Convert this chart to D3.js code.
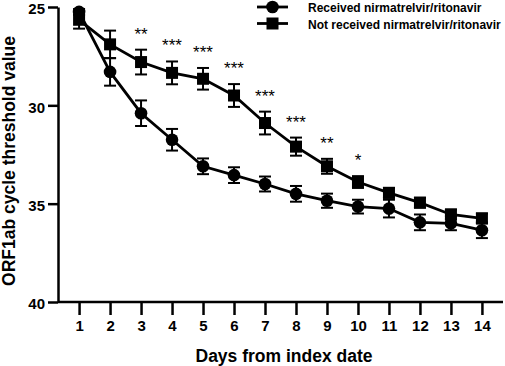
<!DOCTYPE html>
<html lang="en">
<head>
<meta charset="UTF-8">
<script src="https://d3js.org/d3.v7.min.js"></script>
<style>
  body { margin: 0; background: #fff; }
  text { font-family: "Liberation Sans", Arial, sans-serif; fill: #000; }
</style>
</head>
<body>
<svg width="505" height="366"></svg>
<script>
const days = [1, 2, 3, 4, 5, 6, 7, 8, 9, 10, 11, 12, 13, 14];
const received = [25.25, 28.3, 30.4, 31.75, 33.1, 33.55, 34.0, 34.5, 34.85, 35.15, 35.25, 35.95, 36.0, 36.35];
const receivedErr = [0.15, 0.7, 0.65, 0.55, 0.4, 0.4, 0.38, 0.4, 0.36, 0.35, 0.45, 0.4, 0.35, 0.4];
const notReceived = [25.65, 26.9, 27.8, 28.35, 28.65, 29.5, 30.9, 32.1, 33.1, 33.9, 34.45, 34.95, 35.55, 35.75];
const notReceivedErr = [0.45, 0.7, 0.63, 0.58, 0.55, 0.58, 0.58, 0.46, 0.38, 0.3, 0.25, 0.25, 0.25, 0.25];
const stars = ["", "", "**", "***", "***", "***", "***", "***", "**", "*", "", "", "", ""];
const yTicks = [25, 30, 35, 40];
const seriesNames = ["Received nirmatrelvir/ritonavir", "Not received nirmatrelvir/ritonavir"];

const svg = d3.select("svg");
const x = d3.scaleLinear().domain([0.32, 14.68]).range([58, 503]);
const y = d3.scaleLinear().domain([25, 40]).range([7, 302]);

// axes
const yAx = svg.append("g").attr("transform", "translate(58,0)")
  .call(d3.axisLeft(y).tickValues(yTicks).tickSize(10).tickSizeOuter(0).tickPadding(3));
yAx.selectAll("text").attr("dy", "0.45em");
const xAx = svg.append("g").attr("transform", "translate(0,302)")
  .call(d3.axisBottom(x).tickValues(days).tickSize(13).tickSizeOuter(0).tickPadding(5));
[yAx, xAx].forEach(g => {
  g.selectAll("path, line").attr("stroke", "#000").attr("stroke-width", 2.5);
  g.selectAll("text").style("font-size", "15px").style("font-weight", "bold");
});
xAx.select("path").attr("d", "M58,0H503");

svg.append("text").attr("x", 284).attr("y", 362).attr("text-anchor", "middle")
  .style("font-size", "17.5px").style("font-weight", "bold").text("Days from index date");
svg.append("text").attr("transform", "translate(15,161) rotate(-90)").attr("text-anchor", "middle")
  .style("font-size", "17.5px").style("font-weight", "bold").text("ORF1ab cycle threshold value");

function drawSeries(vals, errs, shape) {
  const pts = days.map((d, i) => ({ d: d, v: vals[i], e: errs[i] }));
  svg.append("path").datum(pts)
    .attr("fill", "none").attr("stroke", "#000").attr("stroke-width", 2.8)
    .attr("d", d3.line().x(p => x(p.d)).y(p => y(p.v)));
  const eb = svg.append("g").attr("stroke", "#000").attr("stroke-width", 2);
  pts.forEach(p => {
    eb.append("line").attr("x1", x(p.d)).attr("x2", x(p.d)).attr("y1", y(p.v - p.e)).attr("y2", y(p.v + p.e));
    eb.append("line").attr("x1", x(p.d) - 6).attr("x2", x(p.d) + 6).attr("y1", y(p.v - p.e)).attr("y2", y(p.v - p.e));
    eb.append("line").attr("x1", x(p.d) - 6).attr("x2", x(p.d) + 6).attr("y1", y(p.v + p.e)).attr("y2", y(p.v + p.e));
  });
  pts.forEach(p => {
    if (shape === "circle") svg.append("circle").attr("cx", x(p.d)).attr("cy", y(p.v)).attr("r", 6.3);
    else svg.append("rect").attr("x", x(p.d) - 6).attr("y", y(p.v) - 6).attr("width", 12).attr("height", 12);
  });
}
drawSeries(received, receivedErr, "circle");
drawSeries(notReceived, notReceivedErr, "square");

// significance
svg.append("g").selectAll("text").data(days).enter().append("text")
  .attr("x", d => x(d)).attr("y", (d, i) => y(notReceived[i] - notReceivedErr[i]) - 10)
  .attr("text-anchor", "middle").style("font-size", "17px").text((d, i) => stars[i]);

// legend
const leg = svg.append("g");
seriesNames.forEach((name, i) => {
  const ly = 7 + i * 16.5;
  leg.append("line").attr("x1", 257).attr("x2", 288).attr("y1", ly).attr("y2", ly)
    .attr("stroke", "#000").attr("stroke-width", 2.8);
  if (i === 0) leg.append("circle").attr("cx", 272.5).attr("cy", ly).attr("r", 6.3);
  else leg.append("rect").attr("x", 266.5).attr("y", ly - 6).attr("width", 12).attr("height", 12);
  leg.append("text").attr("x", 308).attr("y", ly + 5).style("font-size", "12px")
    .style("font-weight", "bold").text(name);
});
</script>
</body>
</html>
